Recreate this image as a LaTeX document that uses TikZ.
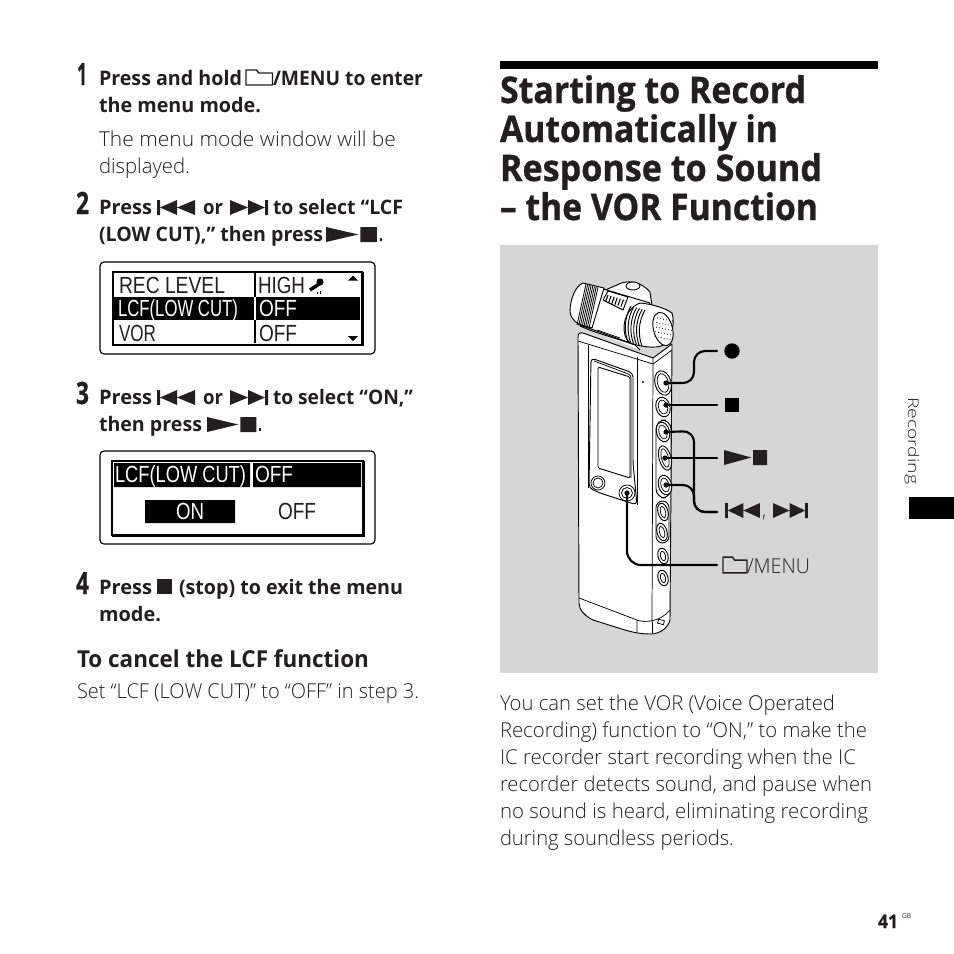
\documentclass[tikz,border=0pt]{standalone}
\usepackage{fontspec}
\usepackage{graphicx}
\setmainfont{Open Sans}
\newfontfamily\lightfam{Open Sans Light}
\newfontfamily\heavyfam[UprightFont=* Bold,UprightFeatures={FakeBold=0.9}]{Open Sans}
\newfontfamily\lcdfont[FakeStretch=0.86]{Liberation Sans}
\newdimen\pxu \pxu=.75pt
\definecolor{ink}{HTML}{231F20}
\definecolor{panel}{HTML}{D6D6D6}
\newcommand{\bodyf}{\fontsize{15.4pt}{18pt}\selectfont\lightfam}
\newcommand{\boldf}{\fontsize{15pt}{18pt}\selectfont\bfseries}
\newcommand{\headf}{\fontsize{17.5pt}{20pt}\selectfont\bfseries}
\newcommand{\titlef}{\fontsize{27.5pt}{30pt}\selectfont\heavyfam}
\newcommand{\numf}{\fontsize{23pt}{24pt}\selectfont\heavyfam}
\newcommand{\lcdf}{\fontsize{17.5pt}{18pt}\selectfont\lcdfont}
% name, x, y(baseline), width in px, font, text
\newcommand{\T}[6]{\node[txt] (#1) at (#2,#3) {\resizebox{#4\pxu}{\height}{#5#6}};}
\newcommand{\PrevI}[3]{\begin{scope}[shift={(#1,#2)},xscale=#3,yscale=1]
  \fill[ink] (0,0) rectangle (3,15) (3,7.5) -- (20,0) -- (20,15) -- cycle (20,7.5) -- (38,0) -- (38,15) -- cycle;\end{scope}}
\newcommand{\NextI}[3]{\begin{scope}[shift={(#1,#2)},xscale=#3,yscale=1]
  \fill[ink] (38,0) rectangle (35,15) (35,7.5) -- (18,0) -- (18,15) -- cycle (18,7.5) -- (0,0) -- (0,15) -- cycle;\end{scope}}
\newcommand{\PlayI}[3]{\begin{scope}[shift={(#1,#2)},xscale=#3,yscale=1]
  \fill[ink] (0,0) -- (33,7.5) -- (0,15) -- cycle (35,0) rectangle (52,15);\end{scope}}
\newcommand{\FolderI}[4]{\begin{scope}[shift={(#1,#2)},xscale=#3,yscale=#4]
  \draw[ink,line width=1.1pt,line join=round] (0,4) -- (0,1) -- (10,1) -- (12,4) -- (25,4) -- (25,16) -- (0,16) -- cycle;\end{scope}}
\tikzset{
  txt/.style={anchor=base west,inner sep=0pt,outer sep=0pt,text=ink},
  wtxt/.style={txt,text=white},
  lead/.style={line width=1.6pt,black,rounded corners=11\pxu,line cap=round},
  dev/.style={line width=.7pt,black,fill=white,line join=round},
  devl/.style={line width=.55pt,black}
}
\begin{document}
\begin{tikzpicture}[x=.75pt,y=-.75pt]
\useasboundingbox (0,0) rectangle (954,954);
\fill[white] (0,0) rectangle (954,954);
% left column
\T{n1}{77}{85}{10}{\numf}{1}
\T{a1}{99}{85}{143}{\boldf}{Press and hold}
\FolderI{246}{69}{1.06}{1}
\T{a2}{273}{85}{150}{\boldf}{/MENU to enter}
\T{a3}{99}{112}{162}{\boldf}{the menu mode.}
\T{a4}{99}{146}{297}{\bodyf}{The menu mode window will be}
\T{a5}{99}{173}{91}{\bodyf}{displayed.}
\T{n2}{76}{214}{13}{\numf}{2}
\T{b1}{99}{214}{53}{\boldf}{Press}
\PrevI{157}{200}{1}
\T{b2}{203}{214}{20}{\boldf}{or}
\NextI{230}{200}{1}
\T{b3}{273}{214}{130}{\boldf}{to select “LCF}
\T{b4}{99}{241}{224}{\boldf}{(LOW CUT),” then press}
\PlayI{326}{227}{.98}
\T{b5}{379}{241}{4}{\boldf}{.}
% LCD 1
\draw[line width=.9pt,black,rounded corners=3pt] (100,262) rectangle (375,354);
\draw[line width=1pt,black] (113,272) rectangle (362,345);
\draw[line width=1.2pt,black] (113,345.5) -- (363,345.5) -- (363,272);
\fill[black] (114,297) rectangle (360,320);
\draw[line width=.8pt,black] (255,272) -- (255,343);
\draw[line width=.8pt,white] (255,297) -- (255,320);
\T{l1}{119}{293}{106}{\lcdf}{REC LEVEL}
\T{l2}{258}{293}{47}{\lcdf}{HIGH}
\node[wtxt] (l3) at (118,316) {\resizebox{120\pxu}{\height}{\lcdf LCF(LOW CUT)}};
\node[wtxt] (l4) at (259,316) {\resizebox{38\pxu}{\height}{\lcdf OFF}};
\T{l5}{119}{341}{37}{\lcdf}{VOR}
\T{l6}{259}{341}{38}{\lcdf}{OFF}
\draw[line width=2.6pt,black] (310,290) -- (319,284);
\fill[black] (320,282) circle (3.6);
\fill[black] (317,292) rectangle (318,294) (320,291) rectangle (321,294);
\fill[black] (348,280.5) -- (353,275.5) -- (358,280.5) -- cycle (348,336) -- (358,336) -- (353,341) -- cycle;
% step 3
\T{n3}{76}{404}{13}{\numf}{3}
\T{c1}{99}{404}{53}{\boldf}{Press}
\PrevI{157}{390}{1}
\T{c2}{203}{404}{20}{\boldf}{or}
\NextI{230}{390}{1}
\T{c3}{273}{404}{140}{\boldf}{to select “ON,”}
\T{c4}{99}{431}{103}{\boldf}{then press}
\PlayI{207}{417}{.95}
\T{c5}{258}{431}{4}{\boldf}{.}
% LCD 2
\draw[line width=.9pt,black,rounded corners=3pt] (100,451) rectangle (375,544);
\draw[line width=1pt,black] (112,461) rectangle (363,535);
\draw[line width=1.2pt,black] (112,536) -- (364,536) -- (364,461);
\fill[black] (114,463) rectangle (250,487) (253,463) rectangle (361,487) (145,500) rectangle (235,523);
\node[wtxt] (m1) at (115,482) {\resizebox{131\pxu}{\height}{\lcdf LCF(LOW CUT)}};
\node[wtxt] (m2) at (255,482) {\resizebox{38\pxu}{\height}{\lcdf OFF}};
\node[wtxt] (m3) at (176,519) {\resizebox{28\pxu}{\height}{\lcdf ON}};
\T{m4}{278}{519}{38}{\lcdf}{OFF}
% step 4
\T{n4}{76}{594}{13}{\numf}{4}
\T{d1}{99}{594}{53}{\boldf}{Press}
\fill[ink] (157,579) rectangle (172,594);
\T{d2}{179}{594}{224}{\boldf}{(stop) to exit the menu}
\T{d3}{99}{621}{62}{\boldf}{mode.}
\T{e1}{77}{667}{292}{\headf}{To cancel the LCF function}
\T{e2}{77}{698}{342}{\bodyf}{Set “LCF (LOW CUT)” to “OFF” in step 3.}
% right column
\fill[black] (500,61) rectangle (878,69);
\T{t1}{500}{103}{306}{\titlef}{Starting to Record}
\T{t2}{500}{142}{278}{\titlef}{Automatically in}
\T{t3}{500}{181}{322}{\titlef}{Response to Sound}
\T{t4}{500}{220}{318}{\titlef}{– the VOR Function}
\fill[panel] (500,245) rectangle (878,673);
% device body
\draw[dev] (578,338) .. controls (578,334) and (579,332) .. (583,333) -- (653,358) -- (672,344) -- (672,345) -- (670,620)
  .. controls (668,628) and (660,634) .. (650,634) .. controls (640,634) and (632,632) .. (625,630) -- (593,620)
  .. controls (585,616) and (579,610) .. (579,603) -- cycle;
\draw[devl] (653,358) -- (653,363) -- (652,622);
\draw[devl] (578,341) -- (653,364) -- (672,350);
\draw[devl] (588,345) -- (588,488);
\draw[devl] (637,357) -- (637,505);
\draw[devl] (579,598) -- (637,620) -- (637,632) (637,620) .. controls (645,623) and (660,622) .. (670,610);
\draw[devl] (652,622) -- (652,633);
\draw[devl,rotate around={-15:(661,622)}] (658,620) rectangle (664,624);
\draw[dev,rounded corners=3pt] (591,358) -- (633,373) -- (633,463) -- (637,505) -- (600,493) -- (589,488) -- cycle;
\draw[devl,rounded corners=2pt] (594,361) -- (631,375) -- (631,478);
\draw[dev,rounded corners=1pt] (598,367) -- (630,377) -- (630,478) -- (598,468) -- cycle;
\fill[black] (643,382) circle (1.2);
\draw[devl] (598,483) circle (7);
\draw[devl] (598,483) circle (5);
\draw[devl] (627,493) circle (8);
\draw[devl] (627,493) circle (5.5);
% side buttons
\draw[dev,rounded corners=7pt] (656,420) rectangle (671,498);
\draw[dev,rounded corners=5pt] (656,501) rectangle (669,543);
\foreach \bx/\by/\rxx/\ryy in {663/383/8/12.5,663/407/7/10,663/432/6.5/10,665/458/6/12.5,665/485/6.5/10,663/512/5/9,662/532/5/9,663/556/5/8,663/578/5/8}
  {\draw[dev,rotate around={15:(\bx,\by)}] (\bx,\by) ellipse[x radius=\rxx,y radius=\ryy];
   \draw[devl,rotate around={15:(\bx,\by)}] (\bx,\by) ellipse[x radius=\rxx-2.5,y radius=\ryy-3];}
% microphone
\draw[dev] (603,291) -- (617,285) .. controls (625,280) and (640,280) .. (650,292) -- (652,305) -- (640,340) -- (600,320) -- cycle;
\draw[dev] (633,286) ellipse[x radius=7,y radius=4];
\draw[dev] (590,285) -- (650,303) -- (636,345) -- (580,325) -- cycle;
\draw[dev] (583,283) .. controls (575,286) and (570,300) .. (570,312) .. controls (571,320) and (578,325) .. (585,326) -- (592,328) -- (604,288) -- cycle;
\foreach \k in {0,...,7}{\draw[line width=.6pt,black] ({586+1.7*\k},{284+.5*\k}) -- ({577+1.7*\k},{325+.5*\k});}
\draw[dev] (603,300) -- (608,291) -- (628,297) -- (623,310) -- cycle;
\foreach \k in {0,...,5}{\draw[line width=.8pt,black] ({608+3.1*\k},{295+.9*\k}) -- ({605.5+3.1*\k},{302+.9*\k});}
\draw[dev] (580,326) -- (592,331) -- (620,340) -- (635,345) -- (640,350);
\draw[devl] (597,330) -- (620,338);
\draw[dev] (640,303) .. controls (652,304) and (665,308) .. (672,313) .. controls (675,322) and (672,335) .. (667,343) .. controls (660,349) and (645,348) .. (630,343) .. controls (620,335) and (622,310) .. (640,303) -- cycle;
\foreach \k in {0,...,5}{\draw[line width=.7pt,black] ({631+2.8*\k},{306+.8*\k}) .. controls ({624+2.8*\k},{318+.8*\k}) and ({624+2.8*\k},{332+.8*\k}) .. ({628+2.8*\k},{342+.8*\k});}
\draw[dev,rotate around={15:(663,329)}] (663,329) ellipse[x radius=9.5,y radius=17];
\foreach \a in {0,...,5}{\foreach \b in {0,...,4}{\fill[black] ({657.5+3*\a-.6*\b},{318+4.6*\b+.6*\a}) circle (.55);}}
% connector coordinates
\coordinate (bRec) at (666,383);
\coordinate (bStop) at (666,405);
\coordinate (bPrev) at (666,432);
\coordinate (bPlay) at (665,458);
\coordinate (bNext) at (666,485);
\coordinate (bMenu) at (627,493);
\coordinate (lRec) at (717,351);
\coordinate (lStop) at (717,405);
\coordinate (lPlay) at (717,458);
\coordinate (lSkip) at (717,512);
\coordinate (lMenu) at (717,565);
\fill[black] (bRec) circle (2.6) (bStop) circle (2.6) (bPrev) circle (2.6) (bPlay) circle (2.6) (bNext) circle (2.6) (bMenu) circle (2.6);
\draw[lead] (bRec) -- (694,383) -- (694,351) -- (lRec);
\draw[lead] (bStop) -- (lStop);
\draw[lead] (bPlay) -- (lPlay);
\draw[lead] (bPrev) -- (694,431) -- (694,512) -- (lSkip);
\draw[lead] (bNext) -- (694,485) -- (694,512) -- (lSkip);
\draw[lead,rounded corners=14\pxu] (bMenu) -- (627,565) -- (lMenu);
% key labels
\node[circle,fill=black,inner sep=0pt,minimum size=11.5pt] (kRec) at (732,351) {};
\node[fill=black,inner sep=0pt,minimum size=10.5pt] (kStop) at (732,404.5) {};
\PlayI{724}{450}{.83}
\PrevI{725}{503}{.92}
\T{kc}{762}{517}{4}{\bodyf}{,}
\NextI{773}{503}{.92}
\FolderI{723}{556}{.96}{1.05}
\T{km}{747}{573}{63}{\bodyf}{/MENU}
% body text
\T{r1}{500}{710}{335}{\bodyf}{You can set the VOR (Voice Operated}
\T{r2}{500}{737}{367}{\bodyf}{Recording) function to “ON,” to make the}
\T{r3}{500}{764}{356}{\bodyf}{IC recorder start recording when the IC}
\T{r4}{500}{791}{372}{\bodyf}{recorder detects sound, and pause when}
\T{r5}{500}{818}{368}{\bodyf}{no sound is heard, eliminating recording}
\T{r6}{500}{845}{234}{\bodyf}{during soundless periods.}
% margin
\node[anchor=base west,inner sep=0pt,text=ink,rotate=-90] (sd) at (908,397) {\resizebox{87\pxu}{\height}{\fontsize{11pt}{12pt}\selectfont\lightfam Recording}};
\fill[black] (909,497) rectangle (954,519);
\T{pg}{878}{928}{20}{\fontsize{14pt}{16pt}\selectfont\heavyfam}{41}
\T{gb}{902}{918}{9}{\fontsize{5pt}{6pt}\selectfont}{GB}
\end{tikzpicture}
\end{document}
